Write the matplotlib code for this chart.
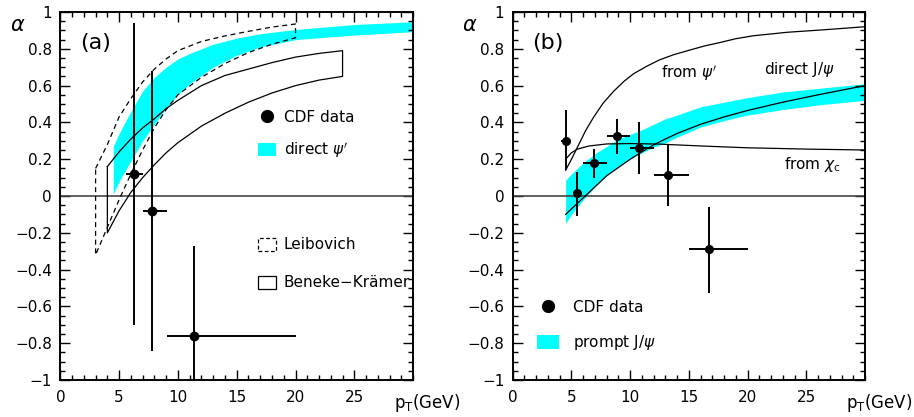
import matplotlib
matplotlib.use("Agg")
import matplotlib.pyplot as plt
import matplotlib.patches as mpatches
from matplotlib.lines import Line2D
from matplotlib.ticker import FixedLocator, MultipleLocator
import numpy as np

## Panel (a) : psi' polarisation

# CDF data points (a)
a_pt      = [6.24, 7.80, 11.34]
a_alpha   = [0.12, -0.08, -0.76]
a_pt_lo   = [5.58, 7.05, 9.10]
a_pt_hi   = [7.00, 9.05, 20.00]
a_al_lo   = [-0.70, -0.84, -1.00]
a_al_hi   = [0.94, 0.68, -0.27]

# direct psi' band
a_band_pt = [4.5, 5, 6, 7, 8, 9, 10, 11, 12, 13, 15, 17, 20, 25, 30]
a_band_hi = [0.27, 0.34, 0.46, 0.57, 0.645, 0.70, 0.745, 0.775, 0.80, 0.825, 0.858, 0.882, 0.905, 0.932, 0.947]
a_band_lo = [0.01, 0.08, 0.19, 0.30, 0.39, 0.48, 0.55, 0.61, 0.655, 0.70, 0.765, 0.81, 0.85, 0.875, 0.893]

# Leibovich (dashed contour)
leib_pt   = [3, 4, 5, 6, 7, 8, 9, 10, 12, 14, 16, 18, 20]
leib_hi   = [0.15, 0.28, 0.43, 0.53, 0.62, 0.69, 0.745, 0.79, 0.84, 0.87, 0.895, 0.918, 0.935]
leib_lo   = [-0.32, -0.17, -0.02, 0.12, 0.25, 0.37, 0.47, 0.55, 0.645, 0.72, 0.78, 0.825, 0.86]

# Beneke-Kraemer (solid contour)
bk_pt     = [4, 5, 6, 7, 8, 9, 10, 12, 14, 16, 18, 20, 22, 24]
bk_hi     = [0.16, 0.24, 0.31, 0.37, 0.42, 0.475, 0.52, 0.60, 0.655, 0.69, 0.725, 0.755, 0.775, 0.79]
bk_lo     = [-0.20, -0.08, 0.02, 0.10, 0.17, 0.235, 0.29, 0.38, 0.45, 0.51, 0.56, 0.60, 0.63, 0.65]

## Panel (b) : J/psi polarisation

b_pt      = [4.52, 5.50, 6.92, 8.86, 10.78, 13.20, 16.70]
b_alpha   = [0.30, 0.015, 0.18, 0.325, 0.262, 0.112, -0.29]
b_pt_lo   = [4.15, 5.10, 6.00, 8.00, 10.00, 12.00, 15.00]
b_pt_hi   = [4.98, 5.90, 8.00, 10.00, 12.00, 15.00, 20.00]
b_al_lo   = [0.14, -0.11, 0.10, 0.23, 0.12, -0.055, -0.525]
b_al_hi   = [0.47, 0.13, 0.258, 0.42, 0.40, 0.28, -0.06]

# prompt J/psi band
b_band_pt = [4.5, 5, 6, 7, 8, 9, 10, 11, 12, 13, 14, 16, 18, 20, 23, 26, 30]
b_band_hi = [0.085, 0.12, 0.18, 0.23, 0.27, 0.31, 0.335, 0.36, 0.39, 0.42, 0.44, 0.485, 0.51, 0.535, 0.565, 0.585, 0.61]
b_band_lo = [-0.15, -0.10, -0.02, 0.05, 0.11, 0.16, 0.20, 0.235, 0.265, 0.29, 0.32, 0.375, 0.41, 0.44, 0.47, 0.495, 0.52]

# theory curves
psip_pt   = [4.5, 5, 5.7, 6.2, 6.9, 7.7, 8.6, 9.5, 10.3, 11.4, 12.5, 13.7, 14.9, 16.3, 17.7, 19, 20.5, 23.4, 26.2, 30]
psip_al   = [0.14, 0.20, 0.29, 0.355, 0.43, 0.505, 0.57, 0.625, 0.665, 0.705, 0.74, 0.768, 0.79, 0.815, 0.835, 0.855, 0.871, 0.89, 0.902, 0.92]
chic_pt   = [4.5, 5, 5.5, 6.5, 8, 10, 12.5, 16, 20, 25, 30]
chic_al   = [0.20, 0.235, 0.255, 0.272, 0.283, 0.285, 0.282, 0.272, 0.262, 0.255, 0.25]
dir_pt    = [4.5, 5, 6, 7, 8, 9, 10, 11, 12, 13, 14, 16, 18, 20, 23, 26, 30]
dir_al    = [-0.10, -0.07, -0.01, 0.05, 0.11, 0.155, 0.20, 0.24, 0.278, 0.31, 0.34, 0.39, 0.43, 0.465, 0.51, 0.55, 0.60]

yticks      = [-1, -0.8, -0.6, -0.4, -0.2, 0, 0.2, 0.4, 0.6, 0.8, 1]
ytick_lbls  = ['\u22121', '\u22120.8', '\u22120.6', '\u22120.4', '\u22120.2', '0', '0.2', '0.4', '0.6', '0.8', '1']
xticks      = [0, 5, 10, 15, 20, 25]
xtick_lbls  = ['0', '5', '10', '15', '20', '25']

CYAN = '#00ffff'
FS   = 11

def SetupAxes( ax, tag ):

    ax.set_xlim( 0, 30 )
    ax.set_ylim( -1, 1 )
    ax.xaxis.set_major_locator( FixedLocator( xticks ) )
    ax.set_xticklabels( xtick_lbls )
    ax.yaxis.set_major_locator( FixedLocator( yticks ) )
    ax.set_yticklabels( ytick_lbls )
    ax.xaxis.set_minor_locator( MultipleLocator( 1 ) )
    ax.yaxis.set_minor_locator( MultipleLocator( 0.05 ) )
    ax.tick_params( which = 'both', direction = 'in', top = True, right = True, width = 1.0, labelsize = FS )
    ax.tick_params( which = 'major', length = 7 )
    ax.tick_params( which = 'minor', length = 3.5 )
    ax.tick_params( axis = 'x', pad = 7 )
    ax.tick_params( axis = 'y', pad = 6 )
    for s in ax.spines.values():
        s.set_linewidth( 1.4 )

    ax.axhline( 0, color = '#444444', lw = 1.2, zorder = 2 )
    ax.text( -0.122, 0.965, r'$\alpha$', transform = ax.transAxes, fontsize = 15, ha = 'center', va = 'center' )
    ax.text( 0.945, -0.062, r'p$_\mathregular{T}$(GeV)', transform = ax.transAxes, fontsize = 12, ha = 'left', va = 'center' )
    ax.text( 0.055, 0.915, tag, transform = ax.transAxes, fontsize = 16, ha = 'left', va = 'center' )

def Contour( ax, x, hi, lo, **kw ):
    xs = list( x ) + list( x[::-1] ) + [ x[0] ]
    ys = list( hi ) + list( lo[::-1] ) + [ hi[0] ]
    ax.plot( xs, ys, color = 'black', lw = 0.9, **kw )

fig = plt.figure( figsize = ( 9.14, 4.17 ), dpi = 100 )
axA = fig.add_axes( [ 0.066, 0.0887, 0.386, 0.8825 ] )
axB = fig.add_axes( [ 0.561, 0.0887, 0.3855, 0.8825 ] )

# ---- panel (a)
SetupAxes( axA, '(a)' )
axA.fill_between( a_band_pt, a_band_lo, a_band_hi, color = CYAN, lw = 0, zorder = 1 )
Contour( axA, leib_pt, leib_hi, leib_lo, linestyle = ( 0, ( 4, 3 ) ), zorder = 3 )
Contour( axA, bk_pt, bk_hi, bk_lo, zorder = 3 )

a_xerr = [ np.array( a_pt ) - np.array( a_pt_lo ), np.array( a_pt_hi ) - np.array( a_pt ) ]
a_yerr = [ np.array( a_alpha ) - np.array( a_al_lo ), np.array( a_al_hi ) - np.array( a_alpha ) ]
axA.errorbar( a_pt, a_alpha, xerr = a_xerr, yerr = a_yerr, fmt = 'o', color = 'black',
              ms = 6, elinewidth = 1.4, capsize = 0, zorder = 5, clip_on = True )

hA1 = [ Line2D( [], [], marker = 'o', ls = '', color = 'black', ms = 8.5 ),
        mpatches.Patch( facecolor = CYAN, edgecolor = 'none' ) ]
legA1 = axA.legend( hA1, [ 'CDF data', r'direct $\psi^\prime$' ], loc = 'upper left',
                    bbox_to_anchor = ( 16.84, 0.47 ), bbox_transform = axA.transData,
                    frameon = False, borderpad = 0, borderaxespad = 0, fontsize = FS,
                    handlelength = 1.16, handleheight = 0.92, handletextpad = 0.5, labelspacing = 1.05 )
axA.add_artist( legA1 )

hA2 = [ mpatches.Patch( facecolor = 'white', edgecolor = 'black', lw = 0.9, linestyle = ( 0, ( 3, 2 ) ) ),
        mpatches.Patch( facecolor = 'white', edgecolor = 'black', lw = 0.9 ) ]
axA.legend( hA2, [ 'Leibovich', 'Beneke\u2212Kr\u00e4mer' ], loc = 'upper left',
            bbox_to_anchor = ( 16.84, -0.225 ), bbox_transform = axA.transData,
            frameon = False, borderpad = 0, borderaxespad = 0, fontsize = FS,
            handlelength = 1.16, handleheight = 0.92, handletextpad = 0.5, labelspacing = 1.5 )

# ---- panel (b)
SetupAxes( axB, '(b)' )
axB.fill_between( b_band_pt, b_band_lo, b_band_hi, color = CYAN, lw = 0, zorder = 1 )
axB.plot( psip_pt, psip_al, color = 'black', lw = 0.9, zorder = 3 )
axB.plot( chic_pt, chic_al, color = 'black', lw = 0.9, zorder = 3 )
axB.plot( dir_pt, dir_al, color = 'black', lw = 0.9, zorder = 3 )

b_xerr = [ np.array( b_pt ) - np.array( b_pt_lo ), np.array( b_pt_hi ) - np.array( b_pt ) ]
b_yerr = [ np.array( b_alpha ) - np.array( b_al_lo ), np.array( b_al_hi ) - np.array( b_alpha ) ]
axB.errorbar( b_pt, b_alpha, xerr = b_xerr, yerr = b_yerr, fmt = 'o', color = 'black',
              ms = 5.5, elinewidth = 1.4, capsize = 0, zorder = 5 )

axB.text( 12.6, 0.67, r'from $\psi^\prime$', fontsize = FS, ha = 'left', va = 'center' )
axB.text( 21.4, 0.69, r'direct J/$\psi$', fontsize = FS, ha = 'left', va = 'center' )
axB.text( 23.1, 0.17, r'from $\chi_\mathregular{c}$', fontsize = FS, ha = 'left', va = 'center' )

hB = [ Line2D( [], [], marker = 'o', ls = '', color = 'black', ms = 8.5 ),
       mpatches.Patch( facecolor = CYAN, edgecolor = 'none' ) ]
axB.legend( hB, [ 'CDF data', r'prompt J/$\psi$' ], loc = 'upper left',
            bbox_to_anchor = ( 2.1, -0.565 ), bbox_transform = axB.transData,
            frameon = False, borderpad = 0, borderaxespad = 0, fontsize = FS,
            handlelength = 1.42, handleheight = 0.96, handletextpad = 0.9, labelspacing = 1.2 )

fig.savefig( 'out.png', dpi = 100 )
plt.close()
